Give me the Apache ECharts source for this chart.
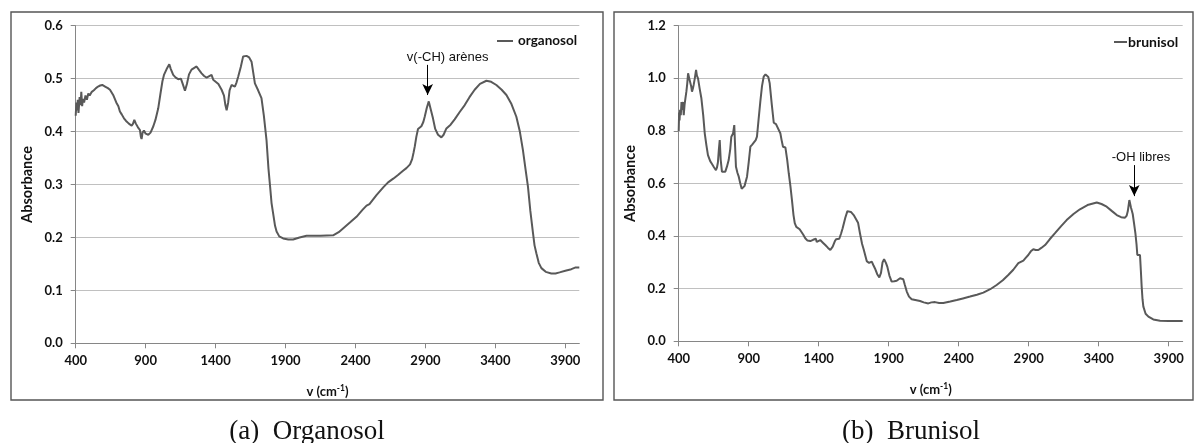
<!DOCTYPE html>
<html>
<head>
<meta charset="utf-8">
<script src="https://cdn.jsdelivr.net/npm/echarts@6/dist/echarts.min.js"></script>
<style>
html,body{margin:0;padding:0;background:#fff;}
#chart{width:1194px;height:443px;}
</style>
</head>
<body>
<div id="chart"></div>
<script>
// ---------- DATA ----------
const xTicks = [400, 900, 1400, 1900, 2400, 2900, 3400, 3900];

const organosolWavenumber = [400,405,410,415,420,428,435,440,446,452,460,470,480,490,500,515,530,545,560,575,590,610,630,645,670,690,705,716,730,745,760,780,800,810,819,830,845,859,866,871,878,888,900,919,935,955,970,990,1005,1020,1031,1050,1069,1080,1097,1115,1133,1152,1165,1181,1195,1210,1228,1245,1264,1280,1300,1318,1336,1350,1371,1383,1395,1420,1443,1460,1470,1479,1490,1500,1514,1538,1550,1562,1580,1597,1621,1640,1657,1670,1681,1704,1728,1745,1764,1778,1790,1800,1811,1825,1836,1855,1883,1920,1954,2000,2050,2150,2240,2280,2311,2360,2407,2450,2479,2500,2514,2550,2600,2633,2670,2704,2740,2764,2790,2805,2815,2824,2835,2847,2871,2885,2895,2910,2924,2940,2954,2970,2990,3014,3030,3050,3080,3109,3145,3181,3215,3252,3290,3336,3370,3407,3445,3479,3515,3550,3575,3597,3615,3633,3650,3669,3680,3693,3710,3729,3760,3800,3830,3859,3900,3943,3970,4000];
const organosolAbsorbance = [0.43,0.455,0.44,0.46,0.435,0.465,0.45,0.475,0.448,0.462,0.455,0.468,0.46,0.472,0.468,0.475,0.478,0.482,0.485,0.487,0.488,0.485,0.482,0.479,0.468,0.455,0.448,0.438,0.432,0.425,0.42,0.415,0.411,0.415,0.422,0.415,0.408,0.403,0.39,0.386,0.398,0.402,0.396,0.394,0.398,0.41,0.422,0.444,0.47,0.495,0.507,0.518,0.527,0.518,0.507,0.502,0.499,0.5,0.49,0.477,0.49,0.508,0.517,0.52,0.523,0.517,0.51,0.505,0.502,0.503,0.507,0.498,0.495,0.49,0.479,0.468,0.45,0.44,0.455,0.478,0.488,0.485,0.493,0.504,0.522,0.542,0.543,0.54,0.532,0.51,0.491,0.478,0.463,0.43,0.384,0.33,0.295,0.265,0.246,0.222,0.211,0.202,0.198,0.196,0.196,0.2,0.203,0.203,0.204,0.21,0.217,0.228,0.239,0.252,0.26,0.263,0.265,0.28,0.295,0.304,0.311,0.318,0.326,0.331,0.338,0.348,0.36,0.372,0.39,0.405,0.41,0.418,0.428,0.445,0.457,0.44,0.425,0.405,0.394,0.389,0.394,0.406,0.413,0.423,0.437,0.45,0.465,0.479,0.49,0.496,0.494,0.488,0.479,0.469,0.452,0.428,0.4,0.365,0.33,0.296,0.25,0.208,0.185,0.17,0.152,0.142,0.135,0.132,0.132,0.134,0.137,0.14,0.143,0.143];

const brunisolWavenumber = [400,403,406,410,415,420,424,430,436,442,448,455,461,467,475,483,489,495,501,507,515,524,530,538,550,562,575,586,598,609,625,638,652,666,673,680,687,693,700,709,720,733,745,757,768,776,788,797,803,809,820,829,840,850,857,870,888,900,912,925,936,950,959,970,983,995,1007,1020,1031,1040,1050,1065,1079,1095,1109,1126,1135,1145,1162,1175,1186,1198,1209,1220,1229,1240,1252,1264,1276,1290,1304,1320,1340,1360,1371,1380,1386,1400,1411,1430,1447,1465,1483,1500,1515,1524,1547,1560,1571,1590,1605,1614,1630,1650,1665,1681,1695,1710,1721,1743,1760,1779,1790,1802,1818,1833,1845,1856,1867,1880,1890,1905,1921,1940,1957,1970,1981,1995,2004,2015,2029,2045,2064,2090,2124,2150,2183,2205,2231,2260,2290,2340,2386,2430,2481,2530,2576,2625,2671,2715,2754,2790,2826,2840,2862,2880,2897,2915,2933,2950,2969,2990,3017,3050,3088,3130,3171,3220,3266,3320,3386,3420,3457,3495,3529,3560,3588,3600,3608,3619,3630,3643,3652,3662,3670,3676,3688,3695,3701,3707,3713,3719,3735,3755,3790,3838,3900,3950,4000];
const brunisolAbsorbance = [0.8,0.87,0.84,0.88,0.86,0.91,0.88,0.91,0.86,0.9,0.924,0.95,0.98,1.019,1.0,1.006,0.97,0.949,0.96,0.975,1.0,1.032,1.01,1.0,0.96,0.924,0.86,0.791,0.745,0.708,0.685,0.674,0.662,0.651,0.66,0.68,0.73,0.765,0.69,0.645,0.64,0.645,0.665,0.689,0.73,0.778,0.79,0.822,0.74,0.664,0.64,0.626,0.6,0.58,0.575,0.59,0.626,0.68,0.74,0.748,0.755,0.765,0.778,0.84,0.911,0.97,1.006,1.015,1.021,1.005,0.981,0.9,0.831,0.826,0.826,0.791,0.765,0.74,0.737,0.69,0.639,0.59,0.537,0.48,0.449,0.435,0.43,0.426,0.425,0.405,0.392,0.383,0.381,0.386,0.385,0.39,0.378,0.385,0.385,0.375,0.366,0.356,0.347,0.36,0.38,0.388,0.39,0.41,0.43,0.47,0.495,0.502,0.492,0.48,0.466,0.451,0.41,0.37,0.35,0.305,0.298,0.303,0.29,0.277,0.255,0.243,0.26,0.3,0.312,0.298,0.284,0.25,0.227,0.228,0.23,0.235,0.24,0.239,0.236,0.215,0.189,0.17,0.16,0.157,0.153,0.148,0.144,0.148,0.149,0.146,0.146,0.151,0.157,0.163,0.17,0.177,0.185,0.198,0.214,0.232,0.252,0.272,0.297,0.302,0.307,0.318,0.328,0.342,0.35,0.347,0.347,0.355,0.366,0.388,0.411,0.437,0.461,0.484,0.502,0.518,0.528,0.522,0.512,0.495,0.48,0.472,0.47,0.478,0.495,0.537,0.51,0.484,0.45,0.411,0.37,0.328,0.33,0.328,0.27,0.208,0.16,0.132,0.105,0.094,0.083,0.078,0.077,0.077,0.077];

const seriesNames = ['organosol', 'brunisol'];
const captions = ['(a)  Organosol', '(b)  Brunisol'];
const annotationTexts = ['v(-CH) arènes', '-OH libres'];
const arrowX = [2916, 3654];
const arrowYFrom = [0.526, 0.670];
const arrowYTo = [0.469, 0.552];
const annotationAnchorX = [3059, 3702];
const annotationAnchorY = [0.541, 0.70];

// ---------- CHART ----------
function zip(xs, ys) { return xs.map((x, i) => [x, ys[i]]); }

const FONT = 'Lato, "Open Sans", sans-serif';
const LINE = '#595959';
const AXIS = '#868686';
const GRIDC = '#c0c0c0';

function xAxis(gi) {
  return {
    type: 'value', gridIndex: gi, min: 400, max: 4000,
    name: 'v (cm{sup|-1})', nameLocation: 'middle', nameGap: 40,
    nameTextStyle: {
      fontFamily: FONT, fontWeight: 'bold', fontSize: 13, color: '#111',
      rich: { sup: { fontFamily: FONT, fontWeight: 'bold', fontSize: 8.5, color: '#111', verticalAlign: 'top', padding: [0, 0, 8, 0] } }
    },
    axisLine: { show: true, onZero: false, lineStyle: { color: AXIS, width: 1 } },
    axisTick: { show: true, inside: false, length: 5, lineStyle: { color: AXIS }, customValues: xTicks },
    axisLabel: { show: true, margin: 11, fontFamily: FONT, fontWeight: 'bold', fontSize: 13, color: '#111',
      customValues: xTicks, formatter: v => String(v) },
    splitLine: { show: false }
  };
}
function yAxis(gi, max, interval) {
  return {
    type: 'value', gridIndex: gi, min: 0, max: max, interval: interval,
    name: 'Absorbance', nameLocation: 'middle', nameGap: 41, nameRotate: 90,
    nameTextStyle: { fontFamily: FONT, fontWeight: 'bold', fontSize: 14.5, color: '#111' },
    axisLine: { show: true, lineStyle: { color: AXIS, width: 1 } },
    axisTick: { show: true, inside: false, length: 5, lineStyle: { color: AXIS } },
    axisLabel: { margin: 13, fontFamily: FONT, fontWeight: 'bold', fontSize: 13, color: '#111',
      formatter: v => v.toFixed(1) },
    splitLine: { show: true, lineStyle: { color: GRIDC, width: 1 } }
  };
}
function annot(i) {
  return {
    markLine: {
      silent: true, animation: false,
      symbol: ['none', 'arrow'], symbolSize: [8, 11],
      lineStyle: { color: '#000', width: 1, type: 'solid' },
      label: { show: false },
      data: [[{ coord: [arrowX[i], arrowYFrom[i]] }, { coord: [arrowX[i], arrowYTo[i]] }]]
    },
    markPoint: {
      silent: true, animation: false,
      symbol: 'circle', symbolSize: 0,
      label: { show: true, position: 'inside', formatter: annotationTexts[i],
        fontFamily: '"Liberation Sans", Arial, sans-serif', fontSize: 13, color: '#111' },
      data: [{ coord: [annotationAnchorX[i], annotationAnchorY[i]] }]
    }
  };
}

const chart = echarts.init(document.getElementById('chart'), null, { renderer: 'canvas' });
chart.setOption({
  animation: false,
  backgroundColor: '#fff',
  grid: [
    { left: 75.7, top: 25.7, width: 503.6, height: 317.6 },
    { left: 678.7, top: 25.7, width: 504, height: 315.6 }
  ],
  xAxis: [xAxis(0), xAxis(1)],
  yAxis: [yAxis(0, 0.6, 0.1), yAxis(1, 1.2, 0.2)],
  legend: [
    { data: [seriesNames[0]], left: 492, top: 29, itemWidth: 16, itemHeight: 2, itemGap: 0,
      icon: 'rect', textStyle: { fontFamily: FONT, fontWeight: 'bold', fontSize: 13.5, color: '#111' } },
    { data: [seriesNames[1]], left: 1109, top: 30, itemWidth: 13, itemHeight: 2, itemGap: 0,
      icon: 'rect', textStyle: { fontFamily: FONT, fontWeight: 'bold', fontSize: 14, color: '#111', padding: [0, 0, 0, -4] } }
  ],
  series: [
    Object.assign({
      name: seriesNames[0], type: 'line', xAxisIndex: 0, yAxisIndex: 0,
      data: zip(organosolWavenumber, organosolAbsorbance),
      showSymbol: false, symbol: 'none', smooth: false,
      lineStyle: { color: LINE, width: 2 }, itemStyle: { color: LINE }
    }, annot(0)),
    Object.assign({
      name: seriesNames[1], type: 'line', xAxisIndex: 1, yAxisIndex: 1,
      data: zip(brunisolWavenumber, brunisolAbsorbance),
      showSymbol: false, symbol: 'none', smooth: false,
      lineStyle: { color: LINE, width: 2 }, itemStyle: { color: LINE }
    }, annot(1))
  ],
  graphic: [
    { type: 'rect', silent: true, shape: { x: 11, y: 12, width: 592, height: 388 },
      style: { fill: 'none', stroke: '#555', lineWidth: 1.4 } },
    { type: 'rect', silent: true, shape: { x: 614, y: 12, width: 579, height: 388 },
      style: { fill: 'none', stroke: '#555', lineWidth: 1.4 } },
    { type: 'text', silent: true, x: 307, y: 432,
      style: { text: captions[0], fontFamily: '"Liberation Serif", "DejaVu Serif", serif', fontSize: 27, fill: '#111',
        align: 'center', verticalAlign: 'middle' } },
    { type: 'text', silent: true, x: 911, y: 432,
      style: { text: captions[1], fontFamily: '"Liberation Serif", "DejaVu Serif", serif', fontSize: 27, fill: '#111',
        align: 'center', verticalAlign: 'middle' } }
  ]
});
</script>
</body>
</html>
